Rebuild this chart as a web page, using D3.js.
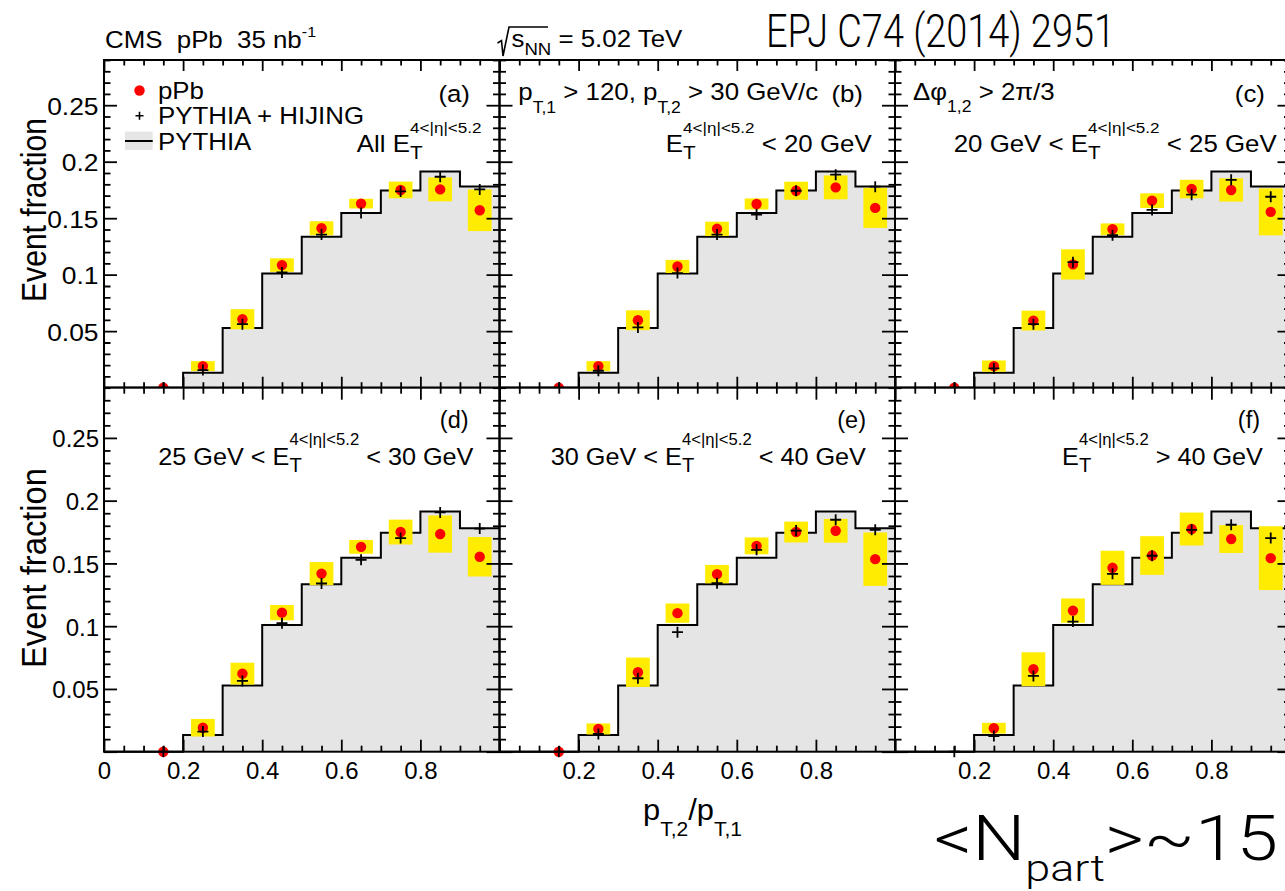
<!DOCTYPE html>
<html>
<head>
<meta charset="utf-8">
<script src="https://cdn.jsdelivr.net/npm/d3@7"></script>
<style>
  body { margin: 0; background: #fff; }
  svg { display: block; font-family: "Liberation Sans", Arial, Helvetica, sans-serif; }
  text { white-space: pre; }
</style>
</head>
<body>
<svg id="chart" width="1285" height="891"></svg>
<script>
// ---- data -------------------------------------------------------------
// PYTHIA reference histogram (same in every panel), bins of 0.1 in pT2/pT1
const binEdges = [0, 0.1, 0.2, 0.3, 0.4, 0.5, 0.6, 0.7, 0.8, 0.9, 1.0];
const pythia   = [0, 0, 0.0133, 0.0528, 0.1010, 0.1335, 0.1545, 0.1745, 0.1913, 0.1781];

// bin centres where the pPb points and PYTHIA+HIJING points are shown
const pointX = [0.15, 0.25, 0.35, 0.45, 0.55, 0.65, 0.75, 0.85, 0.95];

// (a) all ET
const ppbA    = [0, 0.0191, 0.0606, 0.1085, 0.1411, 0.1629, 0.1750, 0.1755, 0.1570];
const sysA    = [0, 0.0044, 0.0089, 0.0060, 0.0062, 0.0043, 0.0074, 0.0106, 0.0184];
const hijingA = [0, 0.0156, 0.0562, 0.1020, 0.1355, 0.1547, 0.1737, 0.1867, 0.1755];
// (b) ET < 20 GeV
const ppbB    = [0, 0.0191, 0.0597, 0.1073, 0.1406, 0.1626, 0.1743, 0.1773, 0.1591];
const sysB    = [0, 0.0044, 0.0088, 0.0058, 0.0063, 0.0049, 0.0080, 0.0106, 0.0177];
const hijingB = [0, 0.0150, 0.0533, 0.1014, 0.1355, 0.1532, 0.1743, 0.1885, 0.1779];
// (c) 20 < ET < 25 GeV
const ppbC    = [0, 0.0191, 0.0594, 0.1091, 0.1402, 0.1655, 0.1758, 0.1750, 0.1556];
const sysC    = [0, 0.0050, 0.0088, 0.0134, 0.0052, 0.0065, 0.0082, 0.0103, 0.0208];
const hijingC = [0, 0.0171, 0.0562, 0.1111, 0.1349, 0.1573, 0.1708, 0.1840, 0.1690];
// (d) 25 < ET < 30 GeV
const ppbD    = [0, 0.0191, 0.0622, 0.1108, 0.1419, 0.1632, 0.1750, 0.1734, 0.1553];
const sysD    = [0, 0.0070, 0.0087, 0.0061, 0.0092, 0.0055, 0.0099, 0.0148, 0.0157];
const hijingD = [0, 0.0160, 0.0564, 0.1024, 0.1340, 0.1529, 0.1702, 0.1906, 0.1778];
// (e) 30 < ET < 40 GeV
const ppbE    = [0, 0.0181, 0.0633, 0.1104, 0.1415, 0.1640, 0.1750, 0.1760, 0.1534];
const sysE    = [0, 0.0044, 0.0117, 0.0077, 0.0073, 0.0067, 0.0083, 0.0095, 0.0213];
const hijingE = [0, 0.0141, 0.0585, 0.0952, 0.1343, 0.1608, 0.1762, 0.1848, 0.1768];
// (f) ET > 40 GeV
const ppbF    = [null, 0.0187, 0.0657, 0.1124, 0.1465, 0.1563, 0.1774, 0.1694, 0.1542];
const sysF    = [0, 0.0043, 0.0135, 0.0097, 0.0136, 0.0154, 0.0131, 0.0111, 0.0254];
const hijingF = [0, 0.0125, 0.0604, 0.1037, 0.1417, 0.1561, 0.1768, 0.1808, 0.1702];

// axis ticks and labels
const yLabelTicks  = [0.05, 0.1, 0.15, 0.2, 0.25];
const xLabelsFirst = [0, 0.2, 0.4, 0.6, 0.8];
const xLabelsRest  = [0.2, 0.4, 0.6, 0.8];

// ---- layout -----------------------------------------------------------
const svg = d3.select('#chart');
const FONT = '"Liberation Sans", Arial, Helvetica, sans-serif';
const NARROW = '"Roboto", "Liberation Sans", sans-serif';
const FS = 23.5;
const PW = 395.5;
const colX = [104, 499.5, 895];
const rows = [{ yt: 60, yb: 387.7, sx: 1.1, xMaj: 11, xMin: 5.5 },
              { yt: 387.7, yb: 751.7, sx: 1.0, xMaj: 12, xMin: 6 }];
const yMaj = 13, yMin = 6.5;

svg.append('rect').attr('width', 1285).attr('height', 891).attr('fill', '#fff');
svg.append('defs').append('clipPath').attr('id', 'topPad')
  .append('rect').attr('x', 0).attr('y', 0).attr('width', 1285).attr('height', 387.7);

// text with sub/superscripts: segs = [text, sizeFactor, baselineShiftEm, stackOnPrevious]
function rich(parent, x, y, segs, opts) {
  const size = opts.size || FS;
  const g = parent.append('g');
  let cx = 0, prevStart = 0;
  segs.forEach(s => {
    const [t, k = 1, sh = 0, stack = false] = s;
    const start = stack ? prevStart : cx;
    const el = g.append('text')
      .attr('x', start).attr('y', sh * size)
      .attr('font-size', size * k)
      .attr('font-family', opts.family || FONT)
      .attr('font-weight', opts.weight || 400)
      .attr('fill', '#000')
      .text(t);
    const w = el.node().getComputedTextLength();
    cx = stack ? Math.max(cx, start + w) : start + w;
    prevStart = start;
  });
  const sx = opts.width ? opts.width / cx : (opts.sx || 1);
  const total = cx * sx;
  const x0 = opts.anchor === 'end' ? x - total : opts.anchor === 'middle' ? x - total / 2 : x;
  g.attr('transform', `translate(${x0},${y}) scale(${sx},1)`);
  return g;
}

// rotated axis title squeezed along its length to a given span
function yTitle(parent, x, yMid, label, size, length) {
  const t = parent.append('text').attr('font-size', size).attr('font-family', FONT)
    .attr('text-anchor', 'middle').attr('fill', '#000').text(label);
  const s = length / t.node().getComputedTextLength();
  t.attr('transform', `translate(${x},${yMid}) rotate(-90) scale(${s},1)`);
}

const fmt = d => String(+d.toFixed(2));
const minorX = d3.range(0, 21).map(i => i * 0.05).filter(v => Math.abs(v / 0.2 - Math.round(v / 0.2)) > 1e-6);
const majorX = d3.range(0, 6).map(i => i * 0.2);
const minorY = d3.range(0, 30).map(i => i * 0.01).filter(v => Math.abs(v / 0.05 - Math.round(v / 0.05)) > 1e-6);
const majorY = d3.range(0, 6).map(i => i * 0.05);

function styleAxis(sel) {
  sel.select('.domain').remove();
  sel.selectAll('line').attr('stroke', '#000').attr('stroke-width', 1.8);
  sel.selectAll('text').attr('font-family', FONT).attr('font-size', FS + 0.5).attr('fill', '#000');
}

function drawPanel(p) {
  const r = rows[p.row];
  const x0 = colX[p.col];
  const x = d3.scaleLinear().domain([0, 1]).range([x0, x0 + PW]);
  const y = d3.scaleLinear().domain([0, 0.29]).range([r.yb, r.yt]);
  const g = svg.append('g');
  if (p.row === 0) g.attr('clip-path', 'url(#topPad)');

  // PYTHIA histogram: grey fill and black step outline
  const steps = pythia.map((v, i) => [binEdges[i], v]).concat([[1.0, pythia[pythia.length - 1]]]);
  g.append('path')
    .attr('d', d3.area().curve(d3.curveStepAfter).x(d => x(d[0])).y0(y(0)).y1(d => y(d[1]))(steps))
    .attr('fill', '#e5e5e5');
  g.append('path')
    .attr('d', d3.line().curve(d3.curveStepAfter).x(d => x(d[0])).y(d => y(d[1]))(steps))
    .attr('fill', 'none').attr('stroke', '#000').attr('stroke-width', 2);

  // systematic uncertainty boxes
  const pts = pointX.map((c, i) => ({ c, v: p.ppb[i], s: p.sys[i], h: p.hijing[i] }));
  g.selectAll('rect.sys').data(pts.filter(d => d.v !== null && d.s > 0)).join('rect')
    .attr('x', d => x(d.c - 0.03)).attr('width', d => x(d.c + 0.03) - x(d.c - 0.03))
    .attr('y', d => y(d.v + d.s)).attr('height', d => y(d.v - d.s) - y(d.v + d.s))
    .attr('fill', '#ffec00');

  // pPb points
  g.selectAll('circle.ppb').data(pts.filter(d => d.v !== null)).join('circle')
    .attr('cx', d => x(d.c)).attr('cy', d => y(d.v)).attr('r', 5.2)
    .attr('fill', '#ff0000');

  // PYTHIA + HIJING crosses
  g.selectAll('path.hij').data(pts).join('path')
    .attr('d', d => {
      const cx = x(d.c), cy = y(d.h), a = 5.5;
      return `M${cx - a},${cy}H${cx + a}M${cx},${cy - a}V${cy + a}`;
    })
    .attr('stroke', '#000').attr('stroke-width', 1.8).attr('fill', 'none');

  // frame
  g.append('rect').attr('x', x0).attr('y', r.yt).attr('width', PW).attr('height', r.yb - r.yt)
    .attr('fill', 'none').attr('stroke', '#000').attr('stroke-width', 2);

  // axes: ticks point inward on all four sides
  const xLab = p.row === 1 ? new Set((p.col === 0 ? xLabelsFirst : xLabelsRest).map(fmt)) : new Set();
  const gb = g.append('g').attr('transform', `translate(0,${r.yb})`)
    .call(d3.axisBottom(x).tickValues(majorX).tickSize(-r.xMaj).tickPadding(10)
      .tickFormat(d => xLab.has(fmt(d)) ? fmt(d) : ''));
  styleAxis(gb);
  styleAxis(g.append('g').attr('transform', `translate(0,${r.yb})`)
    .call(d3.axisBottom(x).tickValues(minorX).tickSize(-r.xMin).tickFormat('')));
  styleAxis(g.append('g').attr('transform', `translate(0,${r.yt})`)
    .call(d3.axisTop(x).tickValues(majorX).tickSize(-r.xMaj).tickFormat('')));
  styleAxis(g.append('g').attr('transform', `translate(0,${r.yt})`)
    .call(d3.axisTop(x).tickValues(minorX).tickSize(-r.xMin).tickFormat('')));

  const yLab = p.col === 0 ? new Set(yLabelTicks.map(fmt)) : new Set();
  const gl = g.append('g').attr('transform', `translate(${x0},0)`)
    .call(d3.axisLeft(y).tickValues(majorY).tickSize(-yMaj).tickPadding(5)
      .tickFormat(d => yLab.has(fmt(d)) ? fmt(d) : ''));
  styleAxis(gl);
  gl.selectAll('text').attr('dy', '0.37em').attr('transform', `scale(${r.sx},1)`);
  styleAxis(g.append('g').attr('transform', `translate(${x0},0)`)
    .call(d3.axisLeft(y).tickValues(minorY).tickSize(-yMin).tickFormat('')));
  styleAxis(g.append('g').attr('transform', `translate(${x0 + PW},0)`)
    .call(d3.axisRight(y).tickValues(majorY).tickSize(-yMaj).tickFormat('')));
  styleAxis(g.append('g').attr('transform', `translate(${x0 + PW},0)`)
    .call(d3.axisRight(y).tickValues(minorY).tickSize(-yMin).tickFormat('')));
}

const panels = [
  { row: 0, col: 0, ppb: ppbA, sys: sysA, hijing: hijingA },
  { row: 0, col: 1, ppb: ppbB, sys: sysB, hijing: hijingB },
  { row: 0, col: 2, ppb: ppbC, sys: sysC, hijing: hijingC },
  { row: 1, col: 0, ppb: ppbD, sys: sysD, hijing: hijingD },
  { row: 1, col: 1, ppb: ppbE, sys: sysE, hijing: hijingE },
  { row: 1, col: 2, ppb: ppbF, sys: sysF, hijing: hijingF }
];
panels.forEach(drawPanel);

// ---- annotations ------------------------------------------------------
const T = svg.append('g');
const topOpts = { sx: 1.1 };
const ETsup = [['E'], ['T', 0.8, 0.3], ['4<|η|<5.2', 0.66, -0.8, true]];
const lowOpts = { size: 24.5, sx: 1.03, anchor: 'end' };

rich(T, 105, 47.5, [['CMS  pPb  35 nb'], ['-1', 0.62, -0.45]], topOpts);
// sqrt(s_NN)
T.append('path').attr('d', 'M497.5,43 L501.5,40.5 L503,56 L509,27 H548')
  .attr('fill', 'none').attr('stroke', '#000').attr('stroke-width', 1.6);
rich(T, 511.5, 46.5, [['s'], ['NN', 0.72, 0.35], [' = 5.02 TeV']], topOpts);
rich(T, 766, 47, [['EPJ C74 (2014) 2951']], { size: 46.5, width: 349, family: NARROW, weight: 300 });

// legend (panel a)
T.append('circle').attr('cx', 139.5).attr('cy', 90.5).attr('r', 5.2).attr('fill', '#ff0000');
T.append('path').attr('d', 'M135.5,115.7H143.5M139.5,111.7V119.7').attr('stroke', '#000').attr('stroke-width', 1.6);
T.append('rect').attr('x', 125).attr('y', 131.7).attr('width', 27.7).attr('height', 18.3).attr('fill', '#e5e5e5');
T.append('line').attr('x1', 125).attr('x2', 152.7).attr('y1', 141).attr('y2', 141).attr('stroke', '#000').attr('stroke-width', 2);
rich(T, 158, 99, [['pPb']], topOpts);
rich(T, 158, 124, [['PYTHIA + HIJING']], topOpts);
rich(T, 158, 150, [['PYTHIA']], topOpts);

// panel labels and selections
rich(T, 470, 101.5, [['(a)']], { sx: 1.1, anchor: 'end' });
rich(T, 481.5, 151.7, [['All '], ...ETsup], { sx: 1.1, anchor: 'end' });

rich(T, 518.3, 100, [['p'], ['T,1', 0.68, 0.55], [' > 120, p'], ['T,2', 0.68, 0.55], [' > 30 GeV/c']], topOpts);
rich(T, 863, 101.5, [['(b)']], { sx: 1.1, anchor: 'end' });
rich(T, 871.7, 151.7, [...ETsup, [' < 20 GeV']], { sx: 1.1, anchor: 'end' });

rich(T, 913, 100, [['Δφ'], ['1,2', 0.68, 0.5], [' > 2π/3']], topOpts);
rich(T, 1265, 101.5, [['(c)']], { sx: 1.1, anchor: 'end' });
rich(T, 1276.7, 151.7, [['20 GeV < '], ...ETsup, [' < 25 GeV']], { sx: 1.1, anchor: 'end' });

rich(T, 468.6, 428.3, [['(d)']], { sx: 1.0, anchor: 'end' });
rich(T, 473.5, 465, [['25 GeV < '], ...ETsup, [' < 30 GeV']], lowOpts);
rich(T, 866, 428.3, [['(e)']], { sx: 1.0, anchor: 'end' });
rich(T, 866, 465, [['30 GeV < '], ...ETsup, [' < 40 GeV']], lowOpts);
rich(T, 1260, 428.3, [['(f)']], { sx: 1.0, anchor: 'end' });
rich(T, 1263, 465, [...ETsup, [' > 40 GeV']], lowOpts);

// axis titles
yTitle(T, 46, 210, 'Event fraction', 35, 184);
yTitle(T, 46, 568, 'Event fraction', 35, 200);
rich(T, 643, 820, [['p'], ['T,2', 0.68, 0.55], ['/p'], ['T,1', 0.68, 0.55]], { size: 29, width: 99 });

// centrality note
rich(T, 934, 860, [['<N'], ['part', 0.6, 0.33], ['>~15']], { size: 63, width: 344, family: NARROW, weight: 300 });
</script>
</body>
</html>
